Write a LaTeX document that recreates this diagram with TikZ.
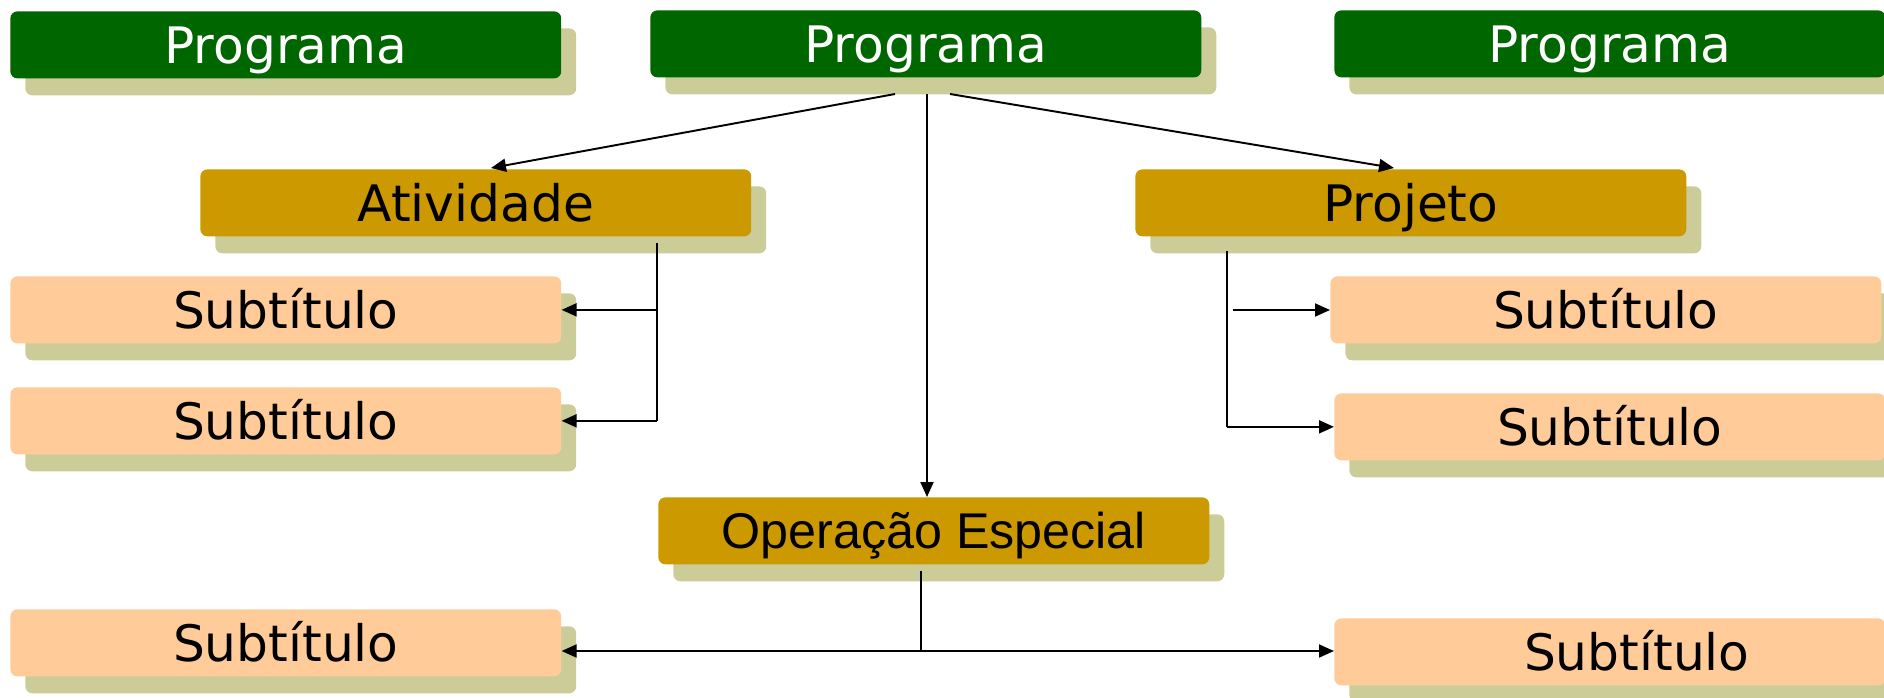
\documentclass[tikz,border=0pt]{standalone}
\usepackage{fontspec}
\setmainfont{DejaVu Sans}
\newfontfamily\arialfont{Liberation Sans}
\usetikzlibrary{shadows,arrows.meta,calc}
\definecolor{progc}{HTML}{006600}
\definecolor{goldc}{HTML}{CC9900}
\definecolor{subc}{HTML}{FFCC99}
\definecolor{shadc}{HTML}{CCCC99}
\begin{document}
\begin{tikzpicture}[x=0.02cm,y=-0.02cm,
  box/.style={rounded corners=4pt, minimum width=11.02cm, minimum height=1.34cm,
    anchor=north west, inner sep=0pt, text height=20.8pt, text depth=0pt,
    font=\fontsize{28.6}{32}\selectfont,
    drop shadow={shadow xshift=0.3cm, shadow yshift=-0.34cm, fill=shadc, opacity=1}},
  prog/.style={box, fill=progc, text=white},
  midbox/.style={box, fill=goldc, text=black},
  subbox/.style={box, fill=subc, text=black},
  conn/.style={line width=1.1pt, draw=black},
  arr/.style={conn, -{Triangle[length=0.3cm, width=0.26cm]}},
  darr/.style={conn, {Triangle[length=0.3cm, width=0.26cm]}-{Triangle[length=0.3cm, width=0.26cm]}}
]
\useasboundingbox (0,0) rectangle (1884,697);
\clip (0,0) rectangle (1884,697);

% nodes
\node[prog] (p1) at (10,11) {Programa};
\node[prog] (p2) at (650,10) {Programa};
\node[prog] (p3) at (1334,10) {Programa};
\node[midbox] (at) at (200,169) {Atividade};
\node[midbox] (pj) at (1135,169) {Projeto};
\node[subbox] (s1) at (10,276) {Subtítulo};
\node[subbox] (s2) at (10,387) {Subtítulo};
\node[subbox] (r1) at (1330,276) {Subtítulo};
\node[subbox] (r2) at (1334,393) {Subtítulo};
\node[midbox, font=\arialfont\fontsize{28.6}{32}\selectfont, text height=20.5pt] (op) at (658,497) {Operação Especial};
\node[subbox] (s3) at (10,609) {Subtítulo};
\node[subbox] (r3) at (1334,618) {\hspace*{1.08cm}Subtítulo};

% connector points
\coordinate (pl) at (895,94);
\coordinate (pc) at (927,94);
\coordinate (pr) at (950,94);
\coordinate (atip) at (491,168);
\coordinate (ptip) at (1394,168);
\coordinate (ab) at (657,243);
\coordinate (pb) at (1227,251);
\coordinate (pa) at (1233,310);
\coordinate (ob) at (921,571);
\coordinate (oh) at (921,651);

% connectors
\draw[arr] (pl) -- (atip);
\draw[arr] (pr) -- (ptip);
\draw[arr] (pc) -- (pc |- op.north);

\draw[conn] (ab) -- (ab |- s2.east);
\draw[arr] (ab |- s1.east) -- (s1.east);
\draw[arr] (ab |- s2.east) -- (s2.east);

\draw[conn] (pb) -- (pb |- r2.west);
\draw[arr] (pb |- r2.west) -- (r2.west);
\draw[arr] (pa) -- (pa -| r1.west);

\draw[conn] (ob) -- (oh);
\draw[darr] (oh -| s3.east) -- (oh -| r3.west);
\end{tikzpicture}
\end{document}
